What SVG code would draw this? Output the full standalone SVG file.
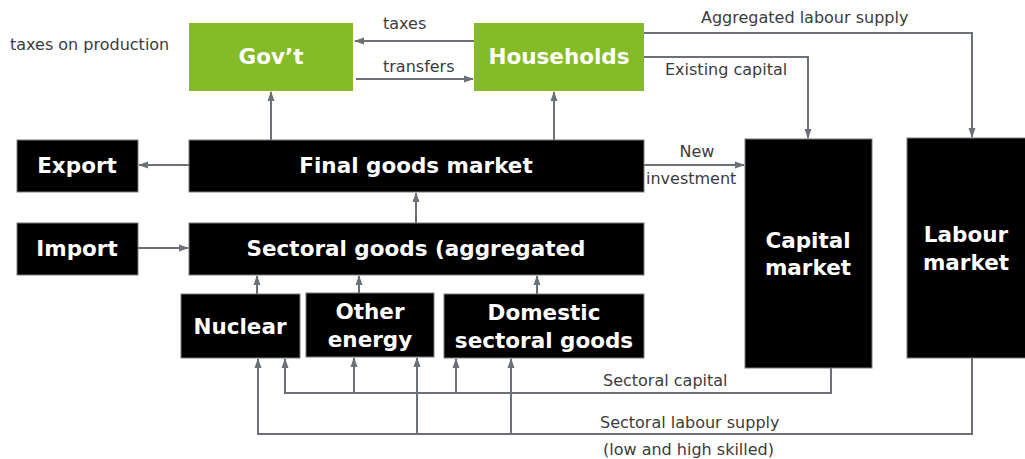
<svg xmlns="http://www.w3.org/2000/svg" width="1025" height="459" viewBox="0 0 1025 459">
<style>
.green{fill:#85bb27}
.blk{fill:#000;stroke:#7a7a7a;stroke-width:1}
.lbl{font-family:"DejaVu Sans",Verdana,sans-serif;font-weight:bold;font-size:21.5px;fill:#fff;text-anchor:middle}
.t{font-family:"DejaVu Sans",Verdana,sans-serif;font-size:16px;fill:#3c3c3c}
.c{fill:none;stroke:#6c7077;stroke-width:2}
</style>
<defs>
<marker id="ah" markerUnits="userSpaceOnUse" markerWidth="10" markerHeight="10" viewBox="0 0 10 10" refX="9" refY="5" orient="auto">
<path d="M0,1.5 L10,5 L0,8.5 z" fill="#6c7077"/>
</marker>
</defs>
<rect width="1025" height="459" fill="#fff"/>
<g id="connectors">
<path class="c" d="M474 41 H355" marker-end="url(#ah)"/>
<path class="c" d="M356 79 H473" marker-end="url(#ah)"/>
<path class="c" d="M271 140 V92" marker-end="url(#ah)"/>
<path class="c" d="M554 140 V92" marker-end="url(#ah)"/>
<path class="c" d="M644 33 H972 V137" marker-end="url(#ah)"/>
<path class="c" d="M644 57 H808 V138" marker-end="url(#ah)"/>
<path class="c" d="M644 165 H744" marker-end="url(#ah)"/>
<path class="c" d="M189 165 H139" marker-end="url(#ah)"/>
<path class="c" d="M138 248 H188" marker-end="url(#ah)"/>
<path class="c" d="M416 223 V193" marker-end="url(#ah)"/>
<path class="c" d="M257 294 V276" marker-end="url(#ah)"/>
<path class="c" d="M359 293 V276" marker-end="url(#ah)"/>
<path class="c" d="M537 294 V276" marker-end="url(#ah)"/>
<path class="c" d="M831 368 V393 H285 V359" marker-end="url(#ah)"/>
<path class="c" d="M354 393 V358" marker-end="url(#ah)"/>
<path class="c" d="M456 393 V359" marker-end="url(#ah)"/>
<path class="c" d="M972 358 V434 H258 V359" marker-end="url(#ah)"/>
<path class="c" d="M417 434 V358" marker-end="url(#ah)"/>
<path class="c" d="M511 434 V359" marker-end="url(#ah)"/>
</g>
<g id="edge-labels">
<text class="t" x="383" y="29">taxes</text>
<text class="t" x="383" y="72">transfers</text>
<text class="t" x="10" y="50">taxes on production</text>
<text class="t" x="701" y="23">Aggregated labour supply</text>
<text class="t" x="665" y="75">Existing capital</text>
<text class="t" x="697" y="157" text-anchor="middle">New</text>
<text class="t" x="646" y="184">investment</text>
<text class="t" x="603" y="386">Sectoral capital</text>
<text class="t" x="600" y="428">Sectoral labour supply</text>
<text class="t" x="603" y="455">(low and high skilled)</text>
</g>
<g id="govt"><rect class="green" x="189" y="23" width="164" height="68"/><text class="lbl" x="271" y="64">Gov’t</text></g>
<g id="households"><rect class="green" x="474" y="23" width="170" height="68"/><text class="lbl" x="559" y="64">Households</text></g>
<g id="export"><rect class="blk" x="17" y="140" width="121" height="52"/><text class="lbl" x="77" y="173">Export</text></g>
<g id="final-goods"><rect class="blk" x="189" y="140" width="455" height="52"/><text class="lbl" x="416" y="173">Final goods market</text></g>
<g id="import"><rect class="blk" x="17" y="223" width="121" height="52"/><text class="lbl" x="77" y="256">Import</text></g>
<g id="sectoral-goods"><rect class="blk" x="189" y="223" width="455" height="52"/><text class="lbl" x="416" y="256">Sectoral goods (aggregated</text></g>
<g id="nuclear"><rect class="blk" x="181" y="294" width="119" height="64"/><text class="lbl" x="240" y="334">Nuclear</text></g>
<g id="other-energy"><rect class="blk" x="306" y="293" width="128" height="64"/><text class="lbl" x="370" y="319">Other</text><text class="lbl" x="370" y="347">energy</text></g>
<g id="domestic"><rect class="blk" x="444" y="294" width="200" height="64"/><text class="lbl" x="544" y="320">Domestic</text><text class="lbl" x="544" y="348">sectoral goods</text></g>
<g id="capital-market"><rect class="blk" x="745" y="139" width="127" height="229"/><text class="lbl" x="808" y="248">Capital</text><text class="lbl" x="808" y="275">market</text></g>
<g id="labour-market"><rect class="blk" x="907" y="138" width="120" height="220"/><text class="lbl" x="966" y="242">Labour</text><text class="lbl" x="966" y="270">market</text></g>
</svg>
